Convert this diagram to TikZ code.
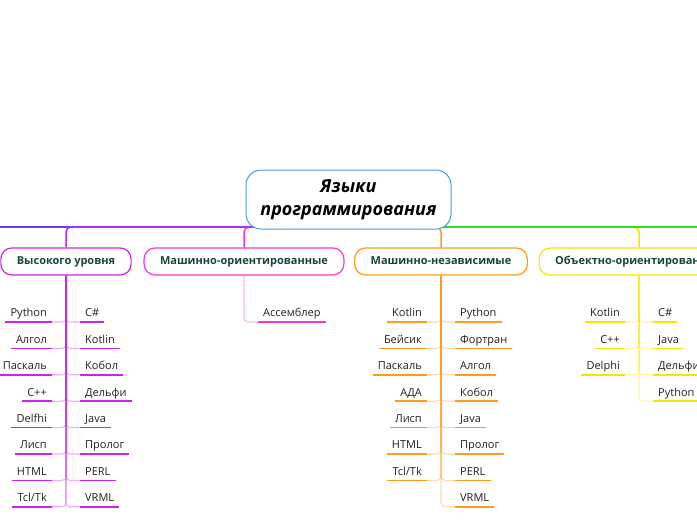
\documentclass[tikz,border=0pt]{standalone}
\usepackage{fontspec}
\setmainfont{Open Sans}
\definecolor{cHigh}{HTML}{CC22EE}
\definecolor{cMO}{HTML}{FF33CC}
\definecolor{cMI}{HTML}{FF9A1A}
\definecolor{cOO}{HTML}{F7E600}
\definecolor{cBlue}{HTML}{6A3DF5}
\definecolor{cGreen}{HTML}{2EE02E}
\definecolor{cRoot}{HTML}{4B9CDB}
\definecolor{cBText}{HTML}{18473A}
\definecolor{cItem}{HTML}{222222}
\begin{document}
\begin{tikzpicture}[x=1pt,y=-1pt,
  rootbox/.style={draw=cRoot, line width=1pt, fill=white, rounded corners=15pt,
    minimum width=205pt, minimum height=59pt, align=center, text=black,
    font=\bfseries\itshape\fontsize{18}{23}\selectfont},
  bbox/.style={line width=1.2pt, fill=white, rounded corners=11pt, minimum height=27pt,
    inner xsep=16pt, text height=8pt, text depth=2.5pt, text=cBText,
    font=\bfseries\fontsize{11}{13}\selectfont},
  leftitem/.style={anchor=south east, text height=8pt, text depth=2.5pt,
    inner xsep=5pt, inner ysep=2.5pt, text=cItem, font=\fontsize{11}{13}\selectfont},
  rightitem/.style={leftitem, anchor=south west},
  topline/.style={line width=1.5pt, rounded corners=5pt},
  conn/.style={line width=1.2pt, opacity=0.35, rounded corners=4pt},
  uline/.style={line width=1.5pt}]
\useasboundingbox (0,0) rectangle (697,520);
\fill[white] (0,0) rectangle (697,520);
\clip (0,0) rectangle (697,520);

% branch boxes
\node[bbox, draw=cHigh] (b1) at (66,261.5) {Высокого уровня};
\node[bbox, draw=cMO] (b2) at (244,261.5) {Машинно-ориентированные};
\node[bbox, draw=cMI] (b3) at (441,261.5) {Машинно-независимые};
\node[bbox, draw=cOO] (b4) at (639,261.5) {Объектно-ориентированные};

% connectors from root
\coordinate (hub) at (348.5,227);
\coordinate (offL) at (-10,227);
\coordinate (offR) at (710,227);
\draw[topline, cBlue] (hub) -- (offL);
\draw[topline, cMO] (hub) -| (b2.north);
\draw[topline, cHigh] (hub) -| (b1.north);
\draw[topline, cMI] (hub) -| (b3.north);
\draw[topline, cOO] (hub) -| (b4.north);
\draw[topline, cGreen] (hub) -- (offR);

% root
\node[rootbox] (root) at (348.5,199.5) {Языки\\программирования};

% High level
\foreach \t [count=\i] in {Python,Алгол,Паскаль,C++,Delfhi,Лисп,HTML,Tcl/Tk}{
  \node[leftitem] (hl\i) at (52,{322+(\i-1)*26.4}) {\t};
  \draw[conn, cHigh] (b1.south) |- (hl\i.south east);
  \draw[uline, cHigh] (hl\i.south west) -- (hl\i.south east);
}
\foreach \t [count=\i] in {C\#,Kotlin,Кобол,Дельфи,Java,Пролог,PERL,VRML}{
  \node[rightitem] (hr\i) at (80,{322+(\i-1)*26.4}) {\t};
  \draw[conn, cHigh] (b1.south) |- (hr\i.south west);
  \draw[uline, cHigh] (hr\i.south west) -- (hr\i.south east);
}

% Machine-oriented
\node[rightitem] (mo1) at (258,322) {Ассемблер};
\draw[conn, cMO] (b2.south) |- (mo1.south west);
\draw[uline, cMO] (mo1.south west) -- (mo1.south east);

% Machine-independent
\foreach \t [count=\i] in {Kotlin,Бейсик,Паскаль,АДА,Лисп,HTML,Tcl/Tk}{
  \node[leftitem] (il\i) at (427,{322+(\i-1)*26.4}) {\t};
  \draw[conn, cMI] (b3.south) |- (il\i.south east);
  \draw[uline, cMI] (il\i.south west) -- (il\i.south east);
}
\foreach \t [count=\i] in {Python,Фортран,Алгол,Кобол,Java,Пролог,PERL,VRML}{
  \node[rightitem] (ir\i) at (455,{322+(\i-1)*26.4}) {\t};
  \draw[conn, cMI] (b3.south) |- (ir\i.south west);
  \draw[uline, cMI] (ir\i.south west) -- (ir\i.south east);
}

% Object-oriented
\foreach \t [count=\i] in {Kotlin,C++,Delphi}{
  \node[leftitem] (ol\i) at (625,{322+(\i-1)*26.4}) {\t};
  \draw[conn, cOO] (b4.south) |- (ol\i.south east);
  \draw[uline, cOO] (ol\i.south west) -- (ol\i.south east);
}
\foreach \t [count=\i] in {C\#,Java,Дельфи,Python}{
  \node[rightitem] (or\i) at (653,{322+(\i-1)*26.4}) {\t};
  \draw[conn, cOO] (b4.south) |- (or\i.south west);
  \draw[uline, cOO] (or\i.south west) -- (or\i.south east);
}
\end{tikzpicture}
\end{document}
